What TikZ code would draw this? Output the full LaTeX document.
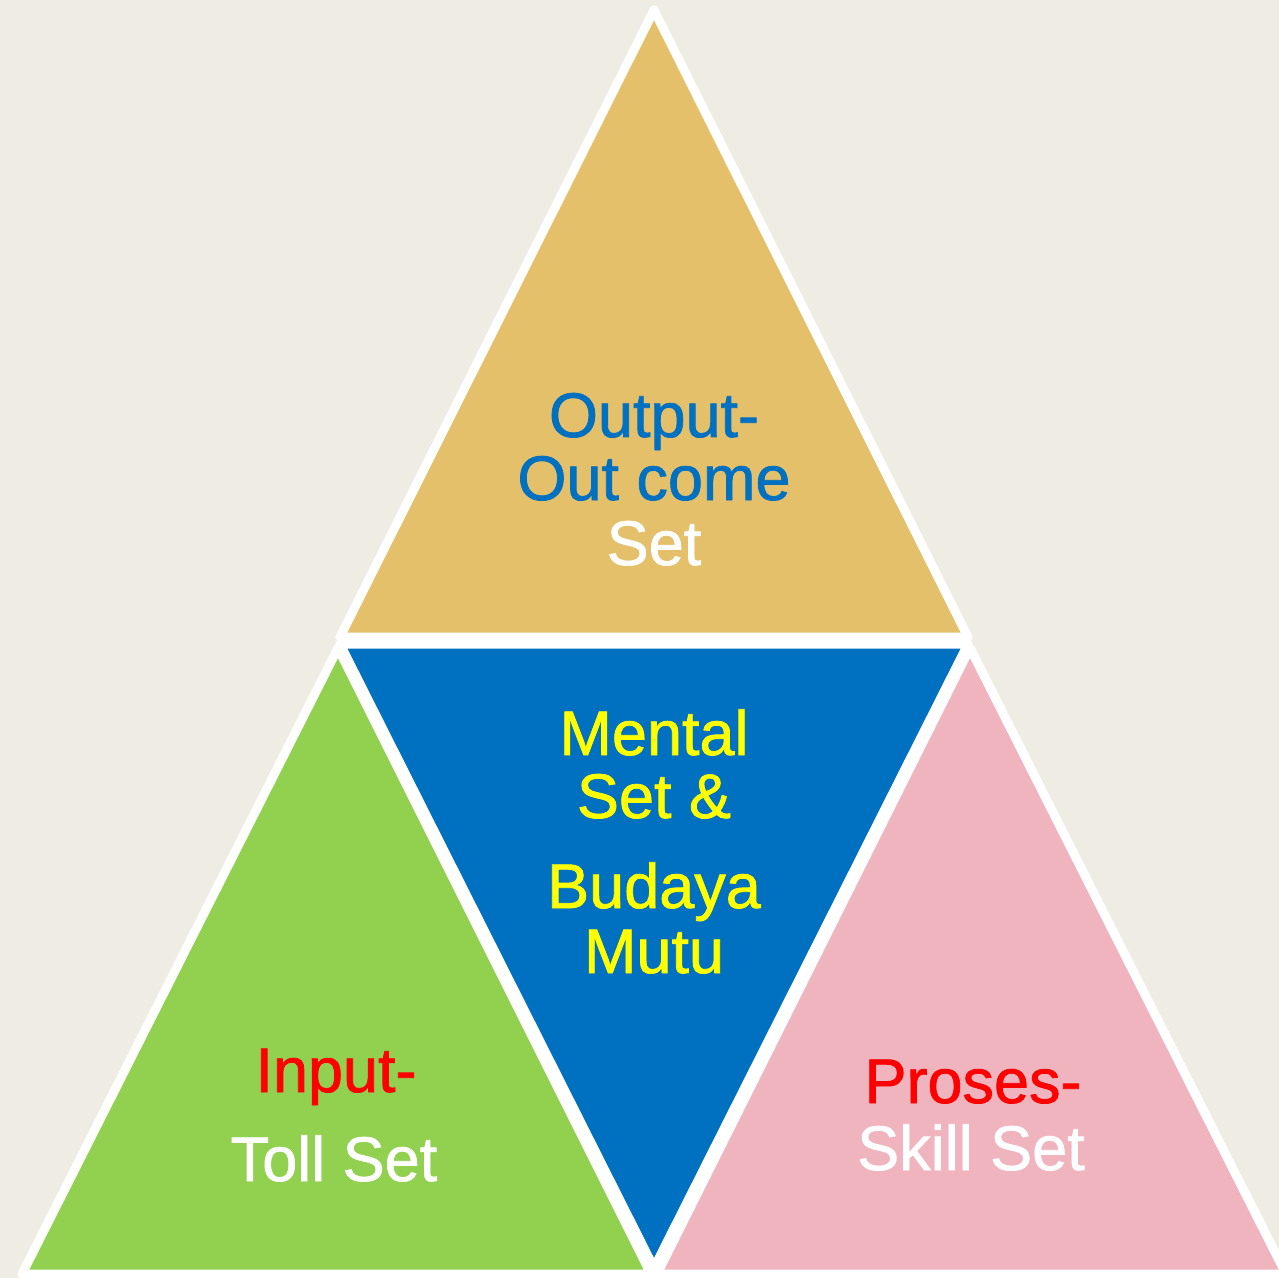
\documentclass[tikz,border=0pt]{standalone}
\usepackage{fontspec}
\setmainfont[FakeBold=1.2]{Liberation Sans}
\definecolor{bgc}{HTML}{EFECE3}
\definecolor{goldc}{HTML}{E5C06B}
\definecolor{bluec}{HTML}{0070C0}
\definecolor{greenc}{HTML}{92D050}
\definecolor{pinkc}{HTML}{EFB4BE}
\definecolor{yel}{HTML}{FFFF00}
\definecolor{redc}{HTML}{FF0000}
\begin{document}
\begin{tikzpicture}[x=0.5pt,y=-0.5pt,
  tri/.style={draw=white,line width=4.5pt,line join=round},
  lbl/.style={anchor=base,inner sep=0pt,font=\fontsize{31.5}{32}\selectfont}]
\useasboundingbox (0,0) rectangle (1279,1278);
\fill[bgc] (0,0) rectangle (1279,1278);
\begin{scope}
\clip (0,0) rectangle (1279,1278);
\filldraw[tri,fill=goldc] (654,10) -- (968,637) -- (340,637) -- cycle;
\filldraw[tri,fill=bluec] (340,644) -- (968,644) -- (654,1268) -- cycle;
\filldraw[tri,fill=greenc] (338,648) -- (651,1274) -- (22,1274) -- cycle;
\filldraw[tri,fill=pinkc] (970,648) -- (1286,1274) -- (657,1274) -- cycle;
\end{scope}
\node[lbl,text=bluec] (o1) at (654,437) {Output-};
\node[lbl,text=bluec] (o2) at (654,500) {Out come};
\node[lbl,text=white] (o3) at (654,565) {Set};
\node[lbl,text=yel] (m1) at (654,755) {Mental};
\node[lbl,text=yel] (m2) at (654,818) {Set \&};
\node[lbl,text=yel] (m3) at (654,908) {Budaya};
\node[lbl,text=yel] (m4) at (654,973) {Mutu};
\node[lbl,text=redc] (i1) at (336,1092) {Input-};
\node[lbl,text=white] (i2) at (334,1181) {Toll Set};
\node[lbl,text=redc] (p1) at (973,1103) {Proses-};
\node[lbl,text=white] (p2) at (971,1170) {Skill Set};
\end{tikzpicture}
\end{document}
